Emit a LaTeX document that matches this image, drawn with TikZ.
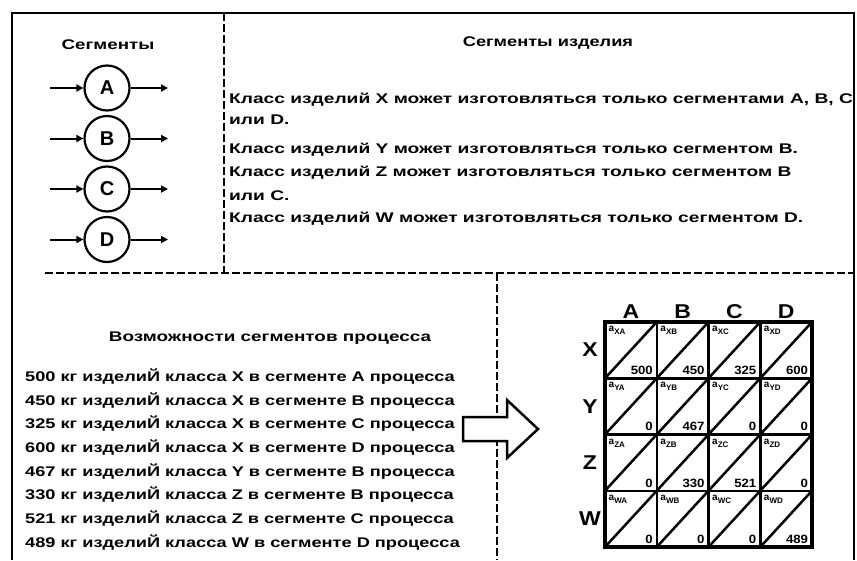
\documentclass[tikz,border=0pt]{standalone}
\usepackage{fontspec}
\setmainfont{Liberation Sans}
\usetikzlibrary{arrows.meta}
\newcommand\xwide[2]{\scalebox{#1}[1]{#2}}
\begin{document}
\begin{tikzpicture}[x=1pt,y=-1pt,
  frame/.style={line width=2.5pt, line join=miter},
  dline/.style={line width=2pt, dash pattern=on 8pt off 3pt},
  seg/.style={circle, draw, line width=2.2pt, minimum size=45pt, inner sep=0pt, font=\bfseries\fontsize{20}{20}\selectfont},
  arr/.style={line width=2pt, -{Triangle[length=7pt,width=7pt]}},
  body/.style={font=\bfseries\fontsize{14}{17}\selectfont, inner sep=0pt, anchor=west},
  ttl/.style={font=\bfseries\fontsize{14}{16}\selectfont, inner sep=0pt},
  hdr/.style={font=\bfseries\fontsize{20}{20}\selectfont, inner sep=0pt},
  clab/.style={font=\bfseries\fontsize{10}{10}\selectfont, inner sep=0pt, anchor=north west},
  cval/.style={font=\bfseries\fontsize{12}{12}\selectfont, inner sep=0pt, anchor=south east},
  grid/.style={line width=2.5pt},
  gridout/.style={line width=3.2pt}]
\useasboundingbox[fill=white] (0,0) rectangle (857,560);

% frame and separators
\draw[frame] (12,560) -- (12,13) -- (854,13) -- (854,560);
\draw[dline] (224,13) -- (224,273);
\draw[dline] (45,273) -- (854,273);
\draw[dline] (497,273) -- (497,560);

% segments
\node[ttl] (segttl) at (108,45) {\xwide{1.34}{Сегменты}};
\foreach \s/\y in {A/88, B/138.5, C/189, D/239.5} {
  \node[seg] (\s) at (107,\y) {\s};
  \coordinate (\s in) at (50,\y);
  \coordinate (\s out) at (168,\y);
  \draw[arr] (\s in) -- (\s);
  \draw[arr] (\s) -- (\s out);
}

% product segments
\node[ttl] (prodttl) at (548,43) {\xwide{1.3}{Сегменты изделия}};
\node[body] (t1) at (229,100) {\xwide{1.37}{Класс изделий X может изготовляться только сегментами A, B, C}};
\node[body] (t2) at (229,120) {\xwide{1.37}{или D.}};
\node[body] (t3) at (229,150) {\xwide{1.37}{Класс изделий Y может изготовляться только сегментом B.}};
\node[body] (t4) at (229,173) {\xwide{1.37}{Класс изделий Z может изготовляться только сегментом B}};
\node[body] (t5) at (229,196) {\xwide{1.37}{или C.}};
\node[body] (t6) at (229,219) {\xwide{1.37}{Класс изделий W может изготовляться только сегментом D.}};

% capabilities
\node[ttl] (capttl) at (270,338) {\xwide{1.35}{Возможности сегментов процесса}};
\foreach \n/\y/\txt in {
  l1/377/{500 кг изделиЙ класса X в сегменте A процесса},
  l2/401/{450 кг изделиЙ класса X в сегменте B процесса},
  l3/424/{325 кг изделиЙ класса X в сегменте C процесса},
  l4/448/{600 кг изделиЙ класса X в сегменте D процесса},
  l5/472/{467 кг изделиЙ класса Y в сегменте B процесса},
  l6/495/{330 кг изделиЙ класса Z в сегменте B процесса},
  l7/519/{521 кг изделиЙ класса Z в сегменте C процесса},
  l8/543/{489 кг изделиЙ класса W в сегменте D процесса}} {
  \node[body] (\n) at (25,\y) {\xwide{1.3}{\txt}};
}

% block arrow
\draw[frame, fill=white] (463,417) -- (507,417) -- (507,400) -- (538,429)
  -- (507,458) -- (507,441) -- (463,441) -- cycle;

% matrix
\foreach \c/\i in {A/0, B/1, C/2, D/3} {
  \node[hdr] (col\c) at ({631+\i*51.75},312) {\xwide{1.15}{\c}};
}
\foreach \r/\j in {X/0, Y/1, Z/2, W/3} {
  \node[hdr] (row\r) at (590,{350+\j*56.25}) {\xwide{1.15}{\r}};
}
\foreach \r/\j/\va/\vb/\vc/\vd in {X/0/500/450/325/600, Y/1/0/467/0/0, Z/2/0/330/521/0, W/3/0/0/0/489} {
  \foreach \c/\i/\v in {A/0/\va, B/1/\vb, C/2/\vc, D/3/\vd} {
    \pgfmathsetmacro\cx{605+\i*51.75}
    \pgfmathsetmacro\cy{322+\j*56.25}
    \draw[grid] (\cx,{\cy+56.25}) -- ({\cx+51.75},\cy);
    \node[clab] (lab\r\c) at ({\cx+3.5},{\cy+4}) {a\raisebox{-3pt}{\fontsize{8}{8}\selectfont\r\c}};
    \node[cval] (val\r\c) at ({\cx+48},{\cy+53}) {\xwide{1.1}{\v}};
  }
}
\draw[gridout] (605,322) rectangle (812,547);
\foreach \k in {1,2,3} {
  \draw[grid] ({605+\k*51.75},322) -- ({605+\k*51.75},547);
  \draw[grid] (605,{322+\k*56.25}) -- (812,{322+\k*56.25});
}
\end{tikzpicture}
\end{document}
